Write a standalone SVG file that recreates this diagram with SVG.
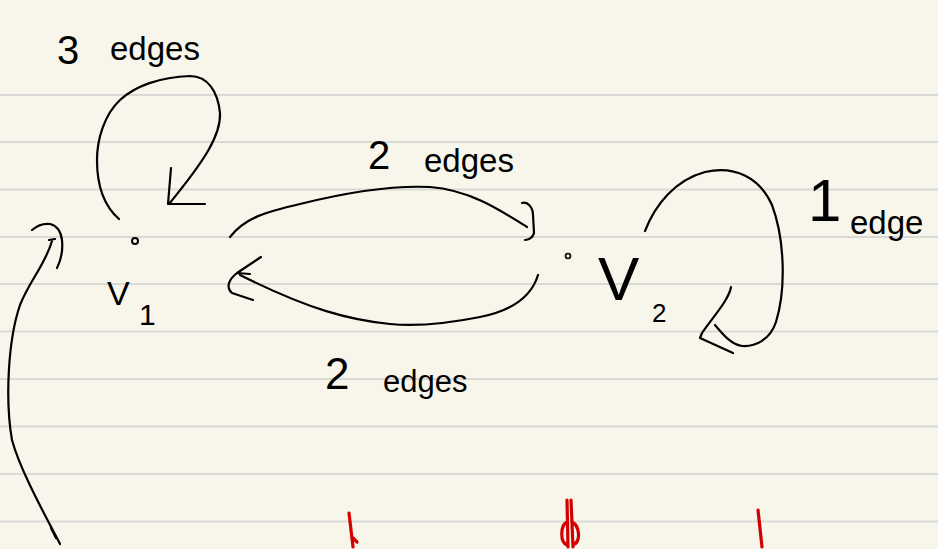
<svg xmlns="http://www.w3.org/2000/svg" width="938" height="549" viewBox="0 0 938 549">
<style>
.rule{stroke:#d9d9d6;stroke-width:2}
.ink{fill:none;stroke:#000;stroke-width:2.2;stroke-linecap:round;stroke-linejoin:round}
.red{fill:none;stroke:#d40000;stroke-width:3.2;stroke-linecap:round;stroke-linejoin:round}
.hand{font-family:"Liberation Sans","DejaVu Sans",sans-serif;fill:#000}
</style>
<rect x="0" y="0" width="938" height="549" fill="#f8f6eb"/>
<g id="paper-rules">
<line class="rule" x1="0" y1="95" x2="938" y2="95"/>
<line class="rule" x1="0" y1="142" x2="938" y2="142"/>
<line class="rule" x1="0" y1="189.5" x2="938" y2="189.5"/>
<line class="rule" x1="0" y1="237" x2="938" y2="237"/>
<line class="rule" x1="0" y1="284" x2="938" y2="284"/>
<line class="rule" x1="0" y1="331.5" x2="938" y2="331.5"/>
<line class="rule" x1="0" y1="379" x2="938" y2="379"/>
<line class="rule" x1="0" y1="426.5" x2="938" y2="426.5"/>
<line class="rule" x1="0" y1="474" x2="938" y2="474"/>
<line class="rule" x1="0" y1="521.5" x2="938" y2="521.5"/>
</g>
<g id="connectors">
<!-- loop on v1 -->
<path class="ink" d="M119,219 C104,206 97,185 97,160 C97,140 104,115 120,100 C135,86 160,77 190,76 C208,76 218,92 220,113 C221,135 205,160 169,204"/>
<path class="ink" d="M171,168 L168,204 L205,204"/>
<!-- v1 to v2 -->
<path class="ink" d="M230,237 C245,218 265,212 300,204 C340,194 385,185 430,187 C470,190 500,210 527,227"/>
<path class="ink" d="M522,203 C528,201 533,208 533,215 L534,233 C533,238 528,240 525,240"/>
<!-- v2 to v1 -->
<path class="ink" d="M538,275 C532,295 515,310 480,317 C450,323 420,327 390,324 C350,320 310,310 240,275"/>
<path class="ink" d="M261,257 L237,273 C228,280 226,288 232,293 L253,300 M237,273 L250,274"/>
<!-- loop on v2 -->
<path class="ink" d="M645,231 C655,205 675,180 705,172 C735,165 760,178 772,205 C785,240 786,290 776,322 C770,340 755,347 742,346 C730,344 722,333 715,325"/>
<path class="ink" d="M731,287 C729,300 712,318 702,333 L700,338 L733,353"/>
<!-- long left arc -->
<path class="ink" d="M60,544 C45,515 20,470 12,440 C5,400 8,340 20,305 C30,280 45,265 52,241 M49,240 L55,239"/>
<path class="ink" d="M32,230 C38,225 43,223 50,224 C58,226 61,232 62,240 C63,250 61,260 57,268"/>
<path class="ink" d="M51,528 L56,538"/>
</g>
<g id="v1">
<circle cx="135" cy="241" r="3" fill="none" stroke="#000" stroke-width="2"/>
<text class="hand" x="107" y="305" font-size="34">V</text>
<text class="hand" x="139" y="325" font-size="30">1</text>
</g>
<g id="v2">
<circle cx="568" cy="256" r="2.5" fill="none" stroke="#000" stroke-width="1.6"/>
<text class="hand" x="598" y="300" font-size="62">V</text>
<text class="hand" x="652" y="322" font-size="26">2</text>
</g>
<g id="edge-labels">
<text class="hand" font-size="33"><tspan x="57" y="64" font-size="40">3</tspan><tspan x="110" y="60">edges</tspan></text>
<text class="hand" font-size="33"><tspan x="368" y="169" font-size="40">2</tspan><tspan x="424" y="172">edges</tspan></text>
<text class="hand" font-size="31"><tspan x="325" y="389" font-size="44">2</tspan><tspan x="383" y="392">edges</tspan></text>
<text class="hand" font-size="33"><tspan x="808" y="221" font-size="60">1</tspan><tspan x="850" y="234">edge</tspan></text>
</g>
<g id="red-marks">
<path class="red" d="M349,513 L353,547 M353,538 L357,542"/>
<path class="red" d="M567,500 L568,547 M571,500 L573,547 M567,522 C560,526 560,542 567,545 M572,522 C580,526 581,542 573,545"/>
<path class="red" d="M758,510 L762,547"/>
</g>
</svg>
